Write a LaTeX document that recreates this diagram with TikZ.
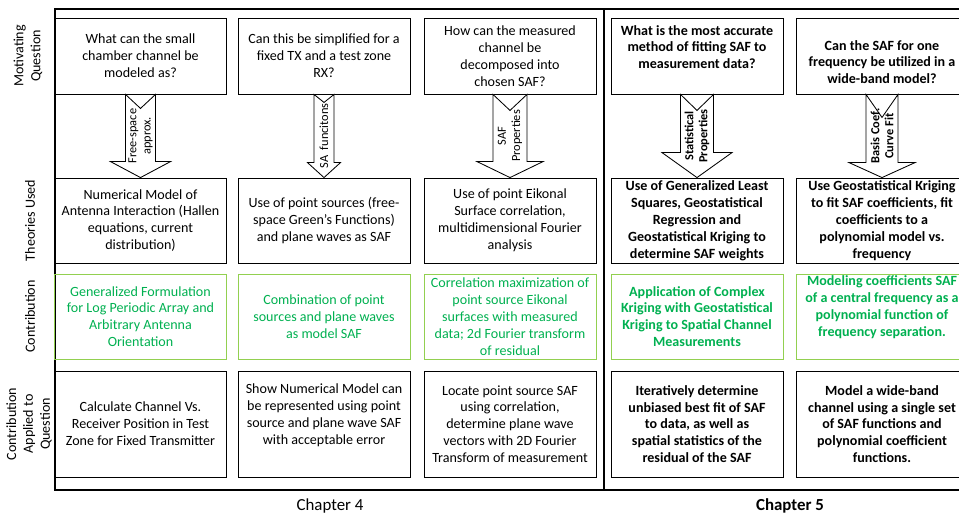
\documentclass[tikz,border=0pt]{standalone}
\usepackage{fontspec}
\setmainfont{Carlito}
\usetikzlibrary{calc}

\definecolor{contribtext}{HTML}{00B050}
\definecolor{contribframe}{HTML}{92D050}

% block arrow with notched tail: from, to, half shaft, half head, head length, notch, label
\newcommand\safarrow[7]{%
  \draw[blockarrow] ($(#1.south)+(-#3,0)$) -- ($(#1.south)+(0,#6)$) -- ($(#1.south)+(#3,0)$)
    -- ($(#2.north)+(#3,-#5)$) -- ($(#2.north)+(#4,-#5)$) -- (#2.north)
    -- ($(#2.north)+(-#4,-#5)$) -- ($(#2.north)+(-#3,-#5)$) -- cycle;
  \node (#1_lbl) [arrowlabel] at ($(#1.south)!0.5!(#2.north)$) {#7};
}

\begin{document}
\begin{tikzpicture}[
		x=0.025cm, y=-0.025cm,
		every node/.style={align=center, inner sep=1pt},
		box/.style={draw, line width=0.6pt, minimum width=4.3cm},
		qbox/.style={box, minimum height=1.9cm},
		tbox/.style={box, minimum height=2.125cm},
		cbox/.style={box, draw=contribframe, text=contribtext, minimum height=2.125cm},
		abox/.style={box, minimum height=2.65cm},
		rowlabel/.style={rotate=90},
		arrowlabel/.style={rotate=90, font=\fontsize{8.8}{10}\selectfont, inner sep=0pt},
		blockarrow/.style={draw, fill=white, line width=0.6pt, line join=miter},
		frame/.style={line width=1.4pt}
	]
  \useasboundingbox (0,0) rectangle (959,516);
  \clip (0,0) rectangle (959,516);

  \draw[frame] (55,9) rectangle (985,490);
  \draw[frame] (604,9) -- (604,490);

  \node (lbl_q) [rowlabel] at (28,56) {Motivating\\Question};
  \node (lbl_t) [rowlabel] at (30,220.5) {Theories Used};
  \node (lbl_c) [rowlabel] at (30,316.5) {Contribution};
  \node (lbl_a) [rowlabel] at (29,424) {Contribution\\Applied to\\Question};

  \node (q_1) [qbox] at (140.5,56) {What can the small\\chamber channel be\\modeled as?};
  \node (q_2) [qbox] at (324,56) {Can this be simplified for a\\fixed TX and a test zone\\RX?};
  \node (q_3) [qbox] at (510,56) {How can the measured\\channel be\\decomposed into\\chosen SAF?};
  \node (q_4) [qbox, font=\bfseries] at (697,56) {What is the most accurate\\method of fitting SAF to\\measurement data?\\[-2.8pt]\strut};
  \node (q_5) [qbox, font=\bfseries] at (882,56) {\strut\\[-4.8pt]Can the SAF for one\\frequency be utilized in a\\wide-band model?};

  \node (t_1) [tbox] at (140.5,220.5) {Numerical Model of\\Antenna Interaction (Hallen\\equations, current\\distribution)};
  \node (t_2) [tbox] at (324,220.5) {Use of point sources (free-\\space Green’s Functions)\\and plane waves as SAF};
  \node (t_3) [tbox] at (510,220.5) {Use of point Eikonal\\Surface correlation,\\multidimensional Fourier\\analysis};
  \node (t_4) [tbox, font=\bfseries] at (697,220.5) {Use of Generalized Least\\Squares, Geostatistical\\Regression and\\Geostatistical Kriging to\\determine SAF weights};
  \node (t_5) [tbox, font=\bfseries] at (882,220.5) {Use Geostatistical Kriging\\to fit SAF coefficients, fit\\coefficients to a\\polynomial model vs.\\frequency};

  \node (c_1) [cbox] at (140.5,316.5) {Generalized Formulation\\for Log Periodic Array and\\Arbitrary Antenna\\Orientation};
  \node (c_2) [cbox] at (324,316.5) {Combination of point\\sources and plane waves\\as model SAF};
  \node (c_3) [cbox] at (510,316.5) {Correlation maximization of\\point source Eikonal\\surfaces with measured\\data; 2d Fourier transform\\of residual};
  \node (c_4) [cbox, font=\bfseries] at (697,316.5) {Application of Complex\\Kriging with Geostatistical\\Kriging to Spatial Channel\\Measurements};
  \node (c_5) [cbox, font=\bfseries] at (882,316.5) {Modeling coefficients SAF\\of a central frequency as a\\polynomial function of\\frequency separation.\\[-0.5pt]\strut};

  \node (a_1) [abox] at (140.5,424) {Calculate Channel Vs.\\Receiver Position in Test\\Zone for Fixed Transmitter};
  \node (a_2) [abox] at (324,424) {Show Numerical Model can\\be represented using point\\source and plane wave SAF\\with acceptable error\\[-1.9pt]\strut};
  \node (a_3) [abox] at (510,424) {Locate point source SAF\\using correlation,\\determine plane wave\\vectors with 2D Fourier\\Transform of measurement};
  \node (a_4) [abox, font=\bfseries] at (697,424) {Iteratively determine\\unbiased best fit of SAF\\to data, as well as\\spatial statistics of the\\residual of the SAF};
  \node (a_5) [abox, font=\bfseries] at (882,424) {Model a wide-band\\channel using a single set\\of SAF functions and\\polynomial coefficient\\functions.};

  \safarrow{q_1}{t_1}{15}{30}{16}{14}{Free-space\\approx.}
  \safarrow{q_2}{t_2}{10}{16.5}{15}{8}{SA\ \ funcitons}
  \safarrow{q_3}{t_3}{17}{33}{16}{16}{SAF\\Properties}
  \safarrow{q_4}{t_4}{16.5}{35}{25}{16}{\bfseries Statistical\\\bfseries Properties}
  \safarrow{q_5}{t_5}{16}{33}{15}{23}{\bfseries Basis Coef.\\\bfseries Curve Fit}

  \node (ch_4) [font=\large] at (330,506) {Chapter 4};
  \node (ch_5) [font=\large\bfseries] at (790,506) {Chapter 5};
\end{tikzpicture}
\end{document}
